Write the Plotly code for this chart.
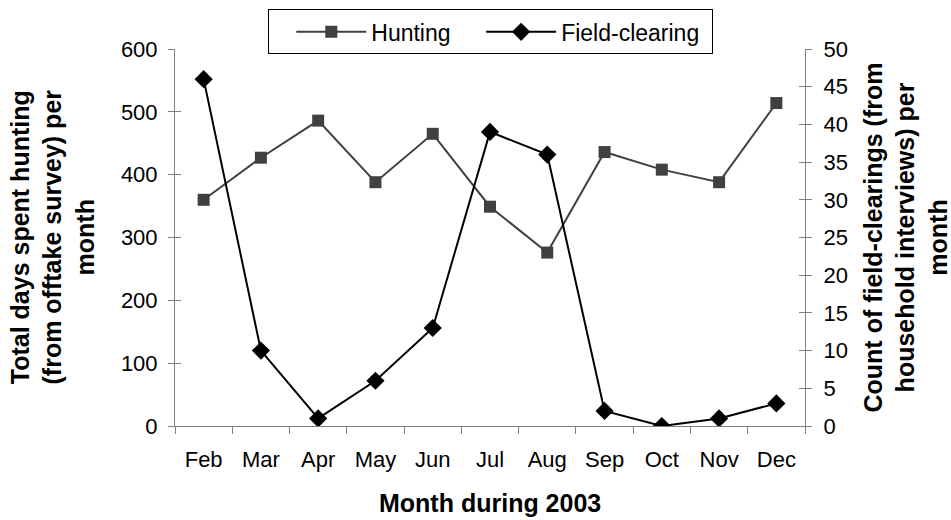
import plotly.graph_objects as go

months = ["Feb", "Mar", "Apr", "May", "Jun", "Jul", "Aug", "Sep", "Oct", "Nov", "Dec"]
hunting = [360, 427, 486, 388, 465, 349, 276, 436, 408, 388, 514]
field_clearing = [46, 10, 1, 6, 13, 39, 36, 2, 0, 1, 3]

FONT = "Liberation Sans, Arial, sans-serif"
AX = "#808080"
NB = "\u00a0"

fig = go.Figure()
fig.add_trace(go.Scatter(
    x=months, y=hunting, name="Hunting" + NB * 4, mode="lines+markers",
    line=dict(color="#404040", width=2),
    marker=dict(symbol="square", size=12, color="#404040"),
    yaxis="y"))
fig.add_trace(go.Scatter(
    x=months, y=field_clearing, name="Field-clearing" + NB, mode="lines+markers",
    line=dict(color="#000000", width=2),
    marker=dict(symbol="diamond", size=14, color="#000000"),
    yaxis="y2"))

fig.update_layout(
    width=951, height=520,
    margin=dict(l=175, r=146, t=49, b=94, autoexpand=False),
    paper_bgcolor="white", plot_bgcolor="white",
    font=dict(family=FONT, size=22, color="black"),
    showlegend=True,
    legend=dict(orientation="h", x=0.5, xanchor="center", y=(426 - 9) / 377.3, yanchor="top",
                bordercolor="black", borderwidth=1, bgcolor="white",
                font=dict(size=23), itemwidth=70,
                title=dict(text=NB * 2, side="left", font=dict(size=23))),
    xaxis=dict(type="category", range=[-0.5, 10.5], showline=True, linecolor=AX, linewidth=1,
               ticks="outside", ticklen=7, tickcolor=AX, tickson="boundaries",
               showgrid=False, zeroline=False, ticklabelstandoff=14),
    yaxis=dict(range=[0, 600], dtick=100, showline=True, linecolor=AX, linewidth=1,
               ticks="outside", ticklen=6, tickcolor=AX, showgrid=False, zeroline=False,
               ticklabelstandoff=6),
    yaxis2=dict(range=[0, 50], dtick=5, overlaying="y", side="right", showline=True,
                linecolor=AX, linewidth=1, ticks="outside", ticklen=6, tickcolor=AX,
                showgrid=False, zeroline=False, ticklabelstandoff=7),
    yaxis3=dict(range=[0, 600], dtick=100, overlaying="y", side="left", showline=False,
                ticks="inside", ticklen=6, tickcolor=AX, showticklabels=False,
                showgrid=False, zeroline=False),
    yaxis4=dict(range=[0, 50], dtick=5, overlaying="y", side="right", showline=False,
                ticks="inside", ticklen=6, tickcolor=AX, showticklabels=False,
                showgrid=False, zeroline=False),
    annotations=[
        dict(text="<b>Total days spent hunting<br>(from offtake survey) per<br>month</b>",
             xref="paper", yref="paper", x=(52 - 175) / 630, y=0.5, xanchor="center",
             yanchor="middle", textangle=-90, showarrow=False, font=dict(size=25)),
        dict(text="<b>Count of field-clearings (from<br>household interviews) per<br>month</b>",
             xref="paper", yref="paper", x=(905 - 175) / 630, y=0.5, xanchor="center",
             yanchor="middle", textangle=-90, showarrow=False, font=dict(size=25)),
        dict(text="<b>Month during 2003</b>", xref="paper", yref="paper", x=0.5,
             y=(426 - 503) / 377.3, xanchor="center", yanchor="middle", showarrow=False,
             font=dict(size=25)),
    ],
)
# dummy traces to activate overlay tick axes
fig.add_trace(go.Scatter(x=[months[0]], y=[None], yaxis="y3", showlegend=False, hoverinfo="skip"))
fig.add_trace(go.Scatter(x=[months[0]], y=[None], yaxis="y4", showlegend=False, hoverinfo="skip"))

fig.write_html("out.html", config={"displayModeBar": False},
               post_script="document.body.style.margin='0';document.body.style.padding='0';")
